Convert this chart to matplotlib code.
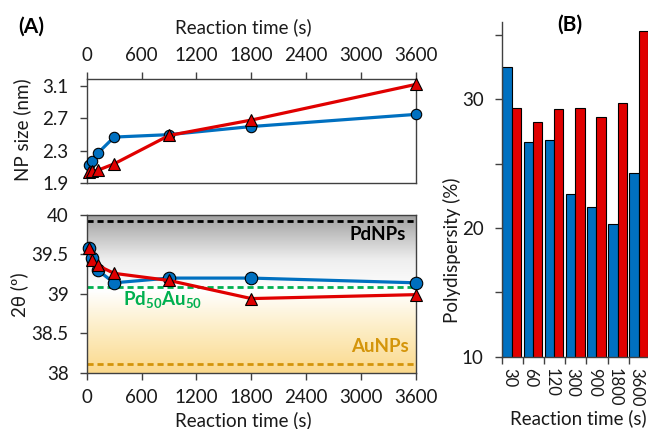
import matplotlib.pyplot as plt
import numpy as np
from matplotlib.colors import LinearSegmentedColormap

plt.rcParams['font.family'] = ['Lato', 'DejaVu Sans']
plt.rcParams['mathtext.fontset'] = 'custom'
plt.rcParams['mathtext.rm'] = 'Lato'
plt.rcParams['mathtext.bf'] = 'Lato:bold'

# data
time_s = [30, 60, 120, 300, 900, 1800, 3600]
size_blue = [2.12, 2.175, 2.27, 2.47, 2.50, 2.60, 2.75]
size_red = [2.04, 2.05, 2.06, 2.14, 2.49, 2.68, 3.12]
theta_blue = [39.58, 39.46, 39.30, 39.14, 39.20, 39.20, 39.14]
theta_red = [39.58, 39.43, 39.36, 39.26, 39.17, 38.94, 38.99]
pd_ref = 39.92
pdau_ref = 39.09
au_ref = 38.11
time_labels = ['30', '60', '120', '300', '900', '1800', '3600']
poly_blue = [32.5, 26.7, 26.8, 22.6, 21.6, 20.3, 24.3]
poly_red = [29.3, 28.25, 29.25, 29.3, 28.65, 29.7, 35.3]

BLUE = '#0070C0'
RED = '#E00000'
GREEN = '#00B050'
GOLD = '#D4950A'
SPINE = '#404040'
TXT = '#1a1a1a'
FS = 13.5

W, H = 648, 429
def fx(px):
    return px / W
def fy(py):
    return 1 - py / H

fig = plt.figure(figsize=(6.48, 4.29), dpi=100)

ax1 = fig.add_axes([fx(86.7), fy(183.3), (416 - 86.7) / W, (183.3 - 79.5) / H])
ax2 = fig.add_axes([fx(86.7), fy(372.7), (416 - 86.7) / W, (372.7 - 215) / H])
ax3 = fig.add_axes([fx(501.7), fy(356.7), 148.3 / W, (356.7 - 22) / H])

for ax in (ax1, ax2, ax3):
    for s in ax.spines.values():
        s.set_color(SPINE)
        s.set_linewidth(1)
    ax.tick_params(colors=SPINE, labelcolor=TXT, labelsize=FS, length=5, width=1, direction='out')

# --- upper panel: NP size
ax1.plot(time_s, size_blue, '-o', color=BLUE, lw=2.3, ms=7.5, mfc=BLUE, mec='black', mew=0.8, clip_on=False, zorder=3)
ax1.plot(time_s, size_red, '-^', color=RED, lw=2.3, ms=8, mfc=RED, mec='black', mew=0.8, clip_on=False, zorder=4)
ax1.set_xlim(0, 3600)
ax1.set_ylim(1.9, 3.18)
ax1.set_yticks([1.9, 2.3, 2.7, 3.1])
ax1.set_yticklabels(['1.9', '2.3', '2.7', '3.1'])
ax1.set_xticks(range(0, 3601, 600))
ax1.xaxis.tick_top()
ax1.tick_params(axis='x', pad=6)
ax1.tick_params(axis='y', pad=8)

# --- lower panel: 2theta
cmap = LinearSegmentedColormap.from_list('bg', [(0.0, '#fbd98c'), (0.3, '#fdefca'), (0.52, '#ffffff'), (0.72, '#eeeeee'), (1.0, '#a0a0a0')])
ax2.imshow(np.linspace(0, 1, 256).reshape(-1, 1), extent=[0, 3600, 38, 40], origin='lower', aspect='auto', cmap=cmap, zorder=0)
ax2.axhline(pd_ref, color='black', lw=2, dashes=(2.2, 1.4), zorder=1)
ax2.axhline(pdau_ref, color=GREEN, lw=2, dashes=(2.2, 1.4), zorder=1)
ax2.axhline(au_ref, color=GOLD, lw=2, dashes=(2.2, 1.4), zorder=1)
ax2.plot(time_s, theta_blue, '-o', color=BLUE, lw=2.3, ms=9, mfc=BLUE, mec='black', mew=0.8, clip_on=False, zorder=3)
ax2.plot(time_s, theta_red, '-^', color=RED, lw=2.3, ms=9, mfc=RED, mec='black', mew=0.8, clip_on=False, zorder=4)
ax2.set_xlim(0, 3600)
ax2.set_ylim(38, 40)
ax2.set_xticks(range(0, 3601, 600))
ax2.set_yticks([38, 38.5, 39, 39.5, 40])
ax2.set_yticklabels(['38', '38.5', '39', '39.5', '40'])
ax2.tick_params(axis='x', pad=7)
ax2.tick_params(axis='y', pad=8)
ax2.text(3491, 39.75, 'PdNPs', ha='right', va='center', fontsize=FS, fontweight='bold', color='black')
ax2.text(3519, 38.33, 'AuNPs', ha='right', va='center', fontsize=FS, fontweight='bold', color=GOLD)
ax2.text(400, 38.92, r'Pd$_{\mathbf{50}}$Au$_{\mathbf{50}}$', ha='left', va='center', fontsize=FS, fontweight='bold', color=GREEN)

# --- panel B: polydispersity bars
idx = np.arange(len(time_labels))
ax3.bar(idx - 0.25, poly_blue, width=0.44, color=BLUE, edgecolor='black', lw=0.8, zorder=2)
ax3.bar(idx + 0.19, poly_red, width=0.44, color=RED, edgecolor='black', lw=0.8, zorder=2)
ax3.set_xlim(-0.5, 6.5)
ax3.set_ylim(10, 36)
ax3.set_yticks([10, 20, 30])
ax3.set_yticks([15, 25, 35], minor=True)
ax3.tick_params(axis='y', which='both', length=5, width=1, colors=SPINE, labelcolor=TXT, pad=8)
ax3.set_xticks(idx - 0.5)
ax3.set_xticklabels([''] * len(idx))
ax3.set_xticks(idx - 0.15, minor=True)
ax3.set_xticklabels(time_labels, minor=True, rotation=-90, fontsize=12, color=TXT)
ax3.tick_params(axis='x', which='minor', length=0, pad=8)
ax3.spines['top'].set_visible(False)
ax3.spines['right'].set_visible(False)

# labels
fig.text(fx(243), fy(27), 'Reaction time (s)', ha='center', va='center', fontsize=FS, color=TXT)
fig.text(fx(243), fy(420), 'Reaction time (s)', ha='center', va='center', fontsize=FS, color=TXT)
fig.text(fx(578), fy(418), 'Reaction time (s)', ha='center', va='center', fontsize=FS, color=TXT)
fig.text(fx(22), fy(130), 'NP size (nm)', rotation=90, ha='center', va='center', fontsize=FS, color=TXT)
fig.text(fx(19), fy(295), '2θ (º)', rotation=90, ha='center', va='center', fontsize=FS, color=TXT)
fig.text(fx(451.7), fy(250), 'Polydispersity (%)', rotation=90, ha='center', va='center', fontsize=FS, color=TXT)
fig.text(fx(31), fy(27), '(A)', ha='center', va='center', fontsize=FS + 1.5, fontweight='bold')
fig.text(fx(570), fy(25), '(B)', ha='center', va='center', fontsize=FS + 1.5, fontweight='bold')

fig.savefig('out.png', dpi=100)
